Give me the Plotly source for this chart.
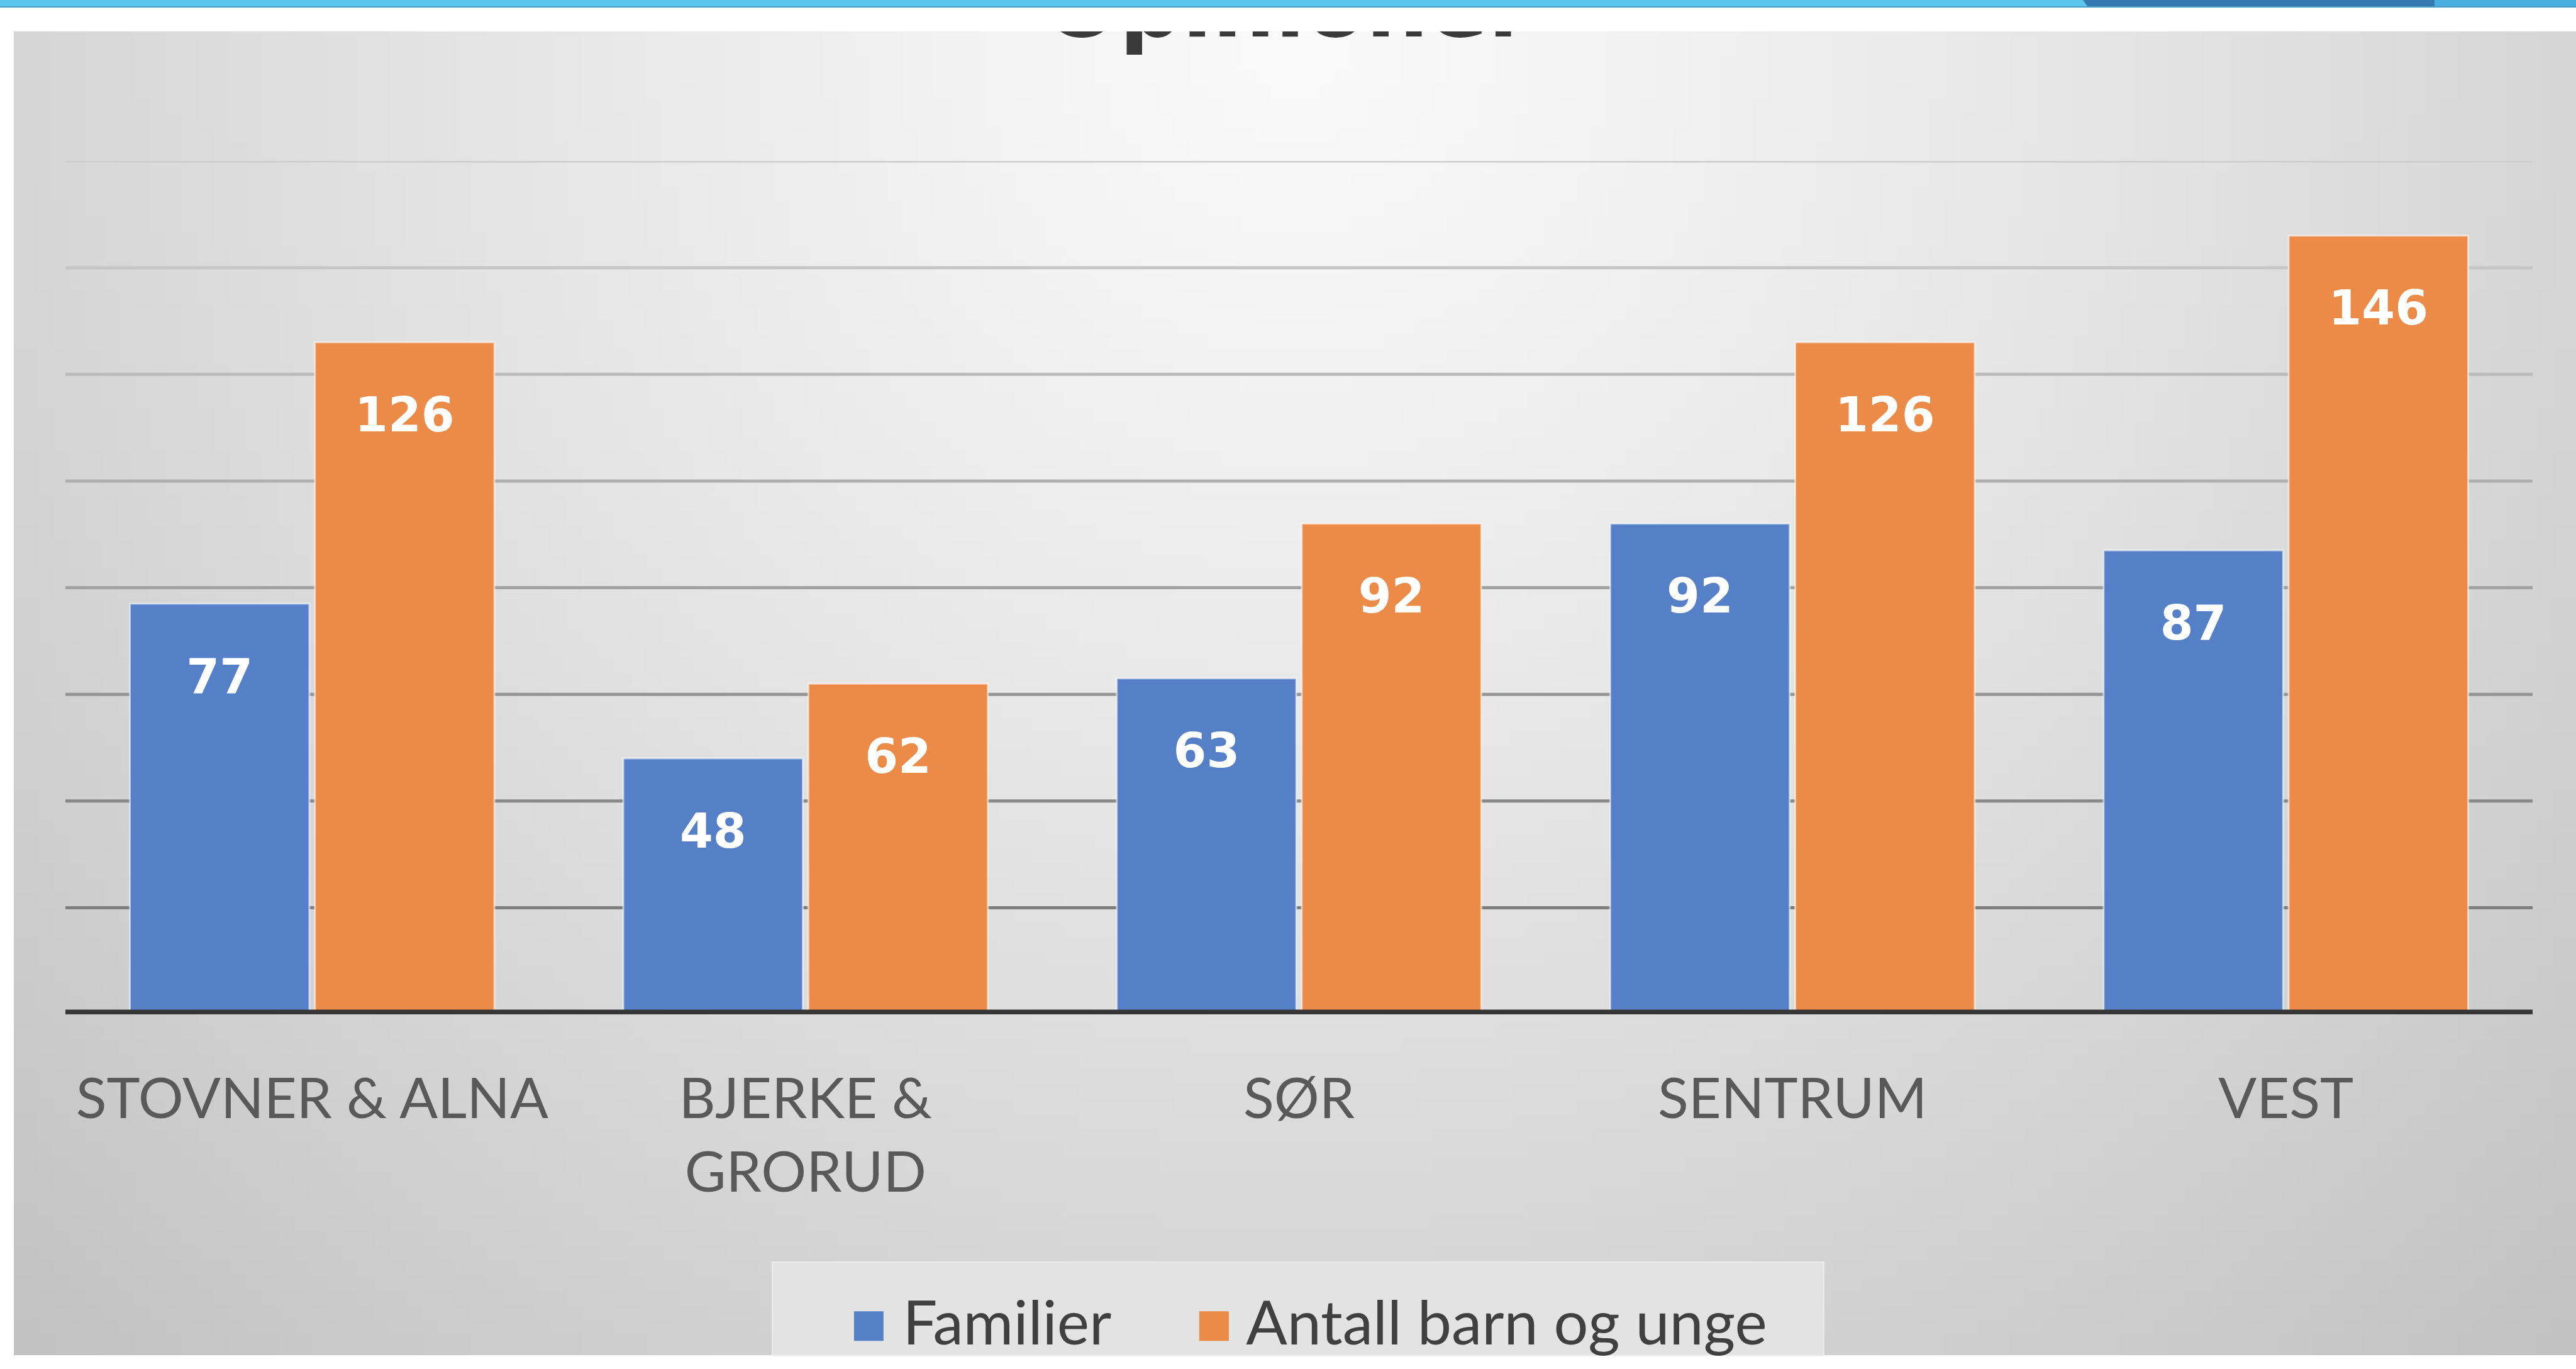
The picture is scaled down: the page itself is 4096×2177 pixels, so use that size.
import base64
import struct
import zlib

import plotly.graph_objects as go

# ---------------- data ----------------
CATEGORIES = ["STOVNER & ALNA", "BJERKE &<br>GRORUD", "SØR", "SENTRUM", "VEST"]
SERIES_NAMES = ["Familier", "Antall barn og unge"]
FAMILIER = [77, 48, 63, 92, 87]
BARN_OG_UNGE = [126, 62, 92, 126, 146]
GRID_VALUES = [20, 40, 60, 80, 100, 120, 140, 160]
Y_RANGE = [0, 160]
TITLE_TEXT = "Opinioner"

# ---------------- styles ----------------
W, H = 4096, 2177
BLUE = "#5580C8"
ORANGE = "#EC8A48"
GRID_COLORS = ["#7e7e7e", "#888888", "#959595", "#a2a2a2",
               "#afafaf", "#bbbbbb", "#c6c6c6", "#cdcdcd"]
AXIS_FONT = dict(family="Lato, 'Open Sans', sans-serif", size=90, color="#595959")
LEGEND_FONT = dict(family="Lato, 'Open Sans', sans-serif", size=97, color="#404040")
LABEL_FONT = dict(family="DejaVu Sans, Verdana, sans-serif", size=76, color="white", weight="bold")


def fx(p):
    return p / W


def fy(p):
    return 1 - p / H


def gradient_png(w, h):
    raw = bytearray()
    for j in range(h):
        raw.append(0)
        v = j / (h - 1)
        for i in range(w):
            u = i / (w - 1)
            d = (((u - 0.5) / 0.55) ** 2 + (v / 1.05) ** 2) ** 0.5
            c = int(max(185, min(251, 250 - 40 * d ** 1.2)))
            raw += bytes((c, c, c))

    def chunk(t, d):
        c = struct.pack(">I", len(d)) + t + d
        return c + struct.pack(">I", zlib.crc32(t + d) & 0xFFFFFFFF)

    png = (b"\x89PNG\r\n\x1a\n"
           + chunk(b"IHDR", struct.pack(">IIBBBBB", w, h, 8, 2, 0, 0, 0))
           + chunk(b"IDAT", zlib.compress(bytes(raw), 9))
           + chunk(b"IEND", b""))
    return "data:image/png;base64," + base64.b64encode(png).decode()


fig = go.Figure()

series = [
    (SERIES_NAMES[0], FAMILIER, BLUE, "a"),
    (SERIES_NAMES[1], BARN_OG_UNGE, ORANGE, "b"),
]

for name, vals, color, grp in series:
    fig.add_bar(
        x=CATEGORIES, y=vals, name=name, offsetgroup=grp,
        marker=dict(color=color, line=dict(color="rgba(255,255,255,0.55)", width=3)),
        showlegend=False, hoverinfo="skip",
    )

# value labels ("inside end") drawn as grouped scatter text
for name, vals, color, grp in series:
    fig.add_scatter(
        x=CATEGORIES, y=vals, mode="markers+text", offsetgroup=grp,
        text=[str(v) for v in vals], textposition="bottom center",
        textfont=LABEL_FONT,
        marker=dict(size=134, color="rgba(0,0,0,0)"),
        cliponaxis=False, showlegend=False, hoverinfo="skip",
    )

# clipped remnant of the slide title (only its lower edge shows in the reference)
fig.add_scatter(
    x=[0.5], y=[1.18], xaxis="x2", yaxis="y2", mode="text",
    text=[TITLE_TEXT], textposition="middle center",
    textfont=dict(family="DejaVu Sans", size=140, color="#3a3a3a", weight="bold"),
    cliponaxis=True, showlegend=False, hoverinfo="skip",
)

shapes = []
# top banner
shapes.append(dict(type="rect", xref="paper", yref="paper", x0=0, x1=1,
                   y0=fy(11), y1=1, fillcolor="#5BC6EC", line=dict(width=0), layer="below"))
shapes.append(dict(type="path", xref="paper", yref="paper",
                   path=f"M {fx(3312)},1 L {fx(3871)},1 L {fx(3871)},{fy(11)} L {fx(3320)},{fy(11)} Z",
                   fillcolor="#3579B1", line=dict(width=0), layer="below"))
shapes.append(dict(type="rect", xref="paper", yref="paper", x0=fx(3871), x1=1,
                   y0=fy(11), y1=1, fillcolor="#48AEDF", line=dict(width=0), layer="below"))
shapes.append(dict(type="line", xref="paper", yref="paper", x0=0, x1=1,
                   y0=fy(11), y1=fy(11), line=dict(color="#4A9CC4", width=2), layer="below"))

# gridlines
for v, c in zip(GRID_VALUES, GRID_COLORS):
    shapes.append(dict(type="line", xref="x domain", yref="y", x0=0, x1=1, y0=v, y1=v,
                       line=dict(color=c, width=5), layer="below"))
# thick category axis line
shapes.append(dict(type="line", xref="x domain", yref="y", x0=0, x1=1, y0=0, y1=0,
                   line=dict(color="#363636", width=15), layer="above"))

# legend box
shapes.append(dict(type="rect", xref="paper", yref="paper", x0=fx(1228), x1=fx(2900),
                   y0=fy(2155), y1=fy(2007), fillcolor="#e3e3e3",
                   line=dict(color="#ebebeb", width=2), layer="below"))

annotations = []
legend_x = [1350, 1899]
for (name, vals, color, grp), lx in zip(series, legend_x):
    annotations.append(dict(
        xref="paper", yref="paper", x=fx(lx), y=fy(2100), xanchor="left", yanchor="middle",
        text=f"<span style='color:{color}'>■</span> {name}", showarrow=False,
        font=LEGEND_FONT,
    ))

fig.update_layout(
    width=W, height=H, autosize=False,
    margin=dict(l=0, r=0, t=0, b=0, pad=0),
    paper_bgcolor="white", plot_bgcolor="rgba(0,0,0,0)",
    barmode="group", bargap=0.25, bargroupgap=0.03,
    scattermode="group", scattergap=0.25,
    shapes=shapes, annotations=annotations,
    images=[dict(source=gradient_png(160, 90), xref="paper", yref="paper",
                 x=fx(22), y=fy(50), sizex=1 - fx(22), sizey=(2155 - 50) / H,
                 xanchor="left", yanchor="top", sizing="stretch", layer="below")],
    xaxis=dict(domain=[fx(104), fx(4027)], type="category", showgrid=False,
               zeroline=False, showline=False, ticks="", tickfont=AXIS_FONT,
               ticklabelstandoff=74, fixedrange=True),
    yaxis=dict(domain=[fy(1613), fy(256)], range=Y_RANGE, showgrid=False,
               zeroline=False, showline=False, showticklabels=False, fixedrange=True),
    xaxis2=dict(domain=[0, 1], range=[0, 1], visible=False, anchor="y2", fixedrange=True),
    yaxis2=dict(domain=[fy(200), fy(50)], range=[0, 1], visible=False, anchor="x2", fixedrange=True),
    showlegend=False,
)

fig.write_html(
    "out.html",
    config={"displayModeBar": False, "staticPlot": True},
    post_script="document.body.style.margin='0';document.body.style.overflow='hidden';",
)
